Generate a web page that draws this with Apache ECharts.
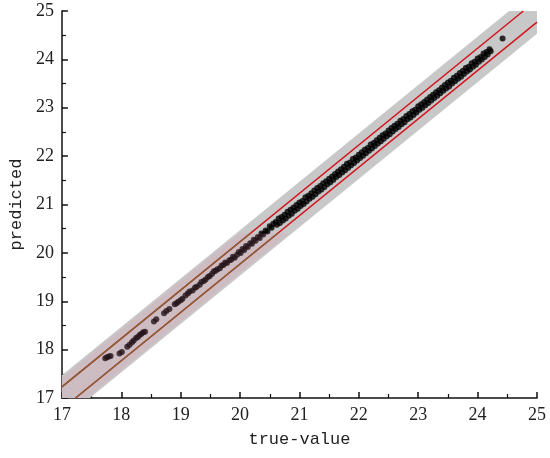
<!DOCTYPE html>
<html>
<head>
<meta charset="utf-8">
<script src="https://cdn.jsdelivr.net/npm/echarts@6/dist/echarts.min.js"></script>
<style>
html,body{margin:0;padding:0;background:#fff;}
#main{width:550px;height:458px;}
</style>
</head>
<body>
<div id="main"></div>
<script>
// axis range + ticks
var axisMin = 17, axisMax = 25;
var tickLabels = [17, 18, 19, 20, 21, 22, 23, 24, 25];

// band offsets around y = x
var grayBand = [-0.47, 0.47];
var pinkBand = [-0.42, 0.42];
var redLines = [-0.23, 0.23];
var pinkTop = 20.4;   // pink overlay + olive lines stop here

// scatter: true value / predicted
var trueVals = [
 17.73,17.76,17.79,17.82,17.97,18.01,18.10,18.14,18.18,18.21,18.25,18.28,18.31,18.34,18.37,18.40,
 18.55,18.59,18.72,18.76,18.81,18.90,18.93,18.96,19.00,19.03,
 19.08,19.12,19.15,19.20,19.24,19.27,19.32,19.35,19.39,19.42,19.46,19.49,19.53,19.56,19.59,19.62,
 19.66,19.69,19.72,19.75,19.78,19.82,19.85,19.88,19.91,19.95,19.98,20.01,20.04,20.07,20.10,20.13,
 20.17,20.20,20.23,20.26,20.30,20.33,20.36,20.39,20.43,20.46,20.50,20.53,20.56,
 20.60,20.62,20.65,20.67,20.70,20.72,20.75,20.77,20.80,20.82,20.85,20.87,20.90,20.92,20.95,20.97,
 21.00,21.02,21.05,21.07,21.10,21.12,21.15,21.17,21.20,21.22,21.25,21.27,21.30,21.32,21.35,21.37,
 21.40,21.42,21.45,21.47,21.50,21.52,21.55,21.57,21.60,21.62,21.65,21.67,21.70,21.72,21.75,21.77,
 21.80,21.82,21.85,21.87,21.90,21.92,21.95,21.97,22.00,22.02,22.05,22.07,22.10,22.12,22.15,22.17,
 22.20,22.22,22.25,22.27,22.30,22.32,22.35,22.37,22.40,22.42,22.45,22.47,22.50,22.52,22.55,22.57,
 22.60,22.62,22.65,22.67,22.70,22.72,22.75,22.77,22.80,22.82,22.85,22.87,22.90,22.92,22.95,22.97,
 23.00,23.02,23.05,23.07,23.10,23.12,23.15,23.17,23.20,23.22,23.25,23.27,23.30,23.32,23.35,23.37,
 23.40,23.42,23.45,23.47,23.50,23.52,23.55,23.57,23.60,23.62,23.65,23.67,23.70,23.72,23.75,23.77,
 23.80,23.82,23.85,23.87,23.90,23.92,23.95,23.97,24.00,24.02,24.05,24.07,24.10,24.12,24.15,24.17,
 24.20,24.22,
 24.42
];
var predVals = [
 17.82,17.84,17.86,17.87,17.92,17.95,18.06,18.10,18.15,18.19,18.24,18.26,18.30,18.33,18.36,18.37,
 18.58,18.63,18.75,18.80,18.84,18.94,18.96,18.99,19.02,19.05,
 19.12,19.16,19.20,19.22,19.28,19.30,19.34,19.40,19.42,19.45,19.50,19.52,19.57,19.62,19.63,19.66,
 19.68,19.74,19.75,19.80,19.79,19.85,19.86,19.92,19.90,19.96,20.02,20.00,20.08,20.06,20.14,20.12,
 20.20,20.19,20.27,20.25,20.33,20.31,20.40,20.38,20.46,20.44,20.55,20.52,20.60,
 20.64,20.58,20.71,20.62,20.74,20.67,20.79,20.71,20.85,20.77,20.89,20.81,20.94,20.87,20.99,20.91,
 21.04,20.97,21.07,21.01,21.15,21.06,21.18,21.12,21.23,21.16,21.29,21.21,21.34,21.27,21.38,21.31,
 21.44,21.36,21.48,21.42,21.53,21.46,21.58,21.51,21.63,21.57,21.68,21.61,21.73,21.66,21.78,21.71,
 21.84,21.76,21.87,21.81,21.94,21.86,21.97,21.91,22.03,21.96,22.08,22.01,22.13,22.06,22.17,22.11,
 22.24,22.16,22.27,22.21,22.33,22.26,22.38,22.31,22.43,22.36,22.47,22.41,22.53,22.45,22.58,22.51,
 22.63,22.56,22.67,22.60,22.73,22.66,22.77,22.70,22.83,22.76,22.87,22.80,22.93,22.85,22.96,22.90,
 23.03,22.96,23.07,23.00,23.12,23.05,23.17,23.10,23.22,23.15,23.27,23.20,23.32,23.25,23.36,23.30,
 23.42,23.35,23.47,23.40,23.52,23.44,23.56,23.50,23.62,23.55,23.66,23.60,23.72,23.64,23.76,23.70,
 23.82,23.75,23.85,23.79,23.92,23.85,23.95,23.89,24.02,23.95,24.05,24.00,24.12,24.05,24.15,24.10,
 24.21,24.17,
 24.43
];

var fontNum = 'Liberation Serif';
var fontName = 'Liberation Mono';

// band between y=x+lo and y=x+hi, cut off at y=top
function bandPoly(lo, hi, top) {
  return [
    [axisMin, axisMin], [axisMin - lo, axisMin],
    [top - lo, top], [top - hi, top],
    [axisMin, axisMin + hi]
  ];
}
function fullBand(lo, hi) {
  return [
    [axisMin, axisMin], [axisMin - lo, axisMin],
    [axisMax, axisMax + lo], [axisMax, axisMax],
    [axisMax - hi, axisMax], [axisMin, axisMin + hi]
  ];
}
function polySeries(pts, color, z) {
  return {
    type: 'custom', z: z, silent: true,
    data: [[axisMin, axisMin]],
    renderItem: function (params, api) {
      return {
        type: 'polygon',
        shape: { points: pts.map(function (p) { return api.coord(p); }) },
        style: { fill: color }
      };
    }
  };
}
function lineSeries(pts, color, z) {
  return {
    type: 'line', z: z, silent: true, symbol: 'none',
    data: pts,
    lineStyle: { color: color, width: 1.5 }
  };
}

var points = trueVals.map(function (v, i) { return [v, predVals[i]]; });
var lo = redLines[0], hi = redLines[1];

var axisCommon = {
  type: 'value', min: axisMin, max: axisMax, interval: 1,
  nameLocation: 'middle',
  nameTextStyle: { fontFamily: fontName, fontSize: 17, color: '#222' },
  axisLine: { show: true, lineStyle: { color: '#111', width: 1.5 } },
  axisTick: { show: true, inside: true, length: 6, lineStyle: { color: '#111', width: 1.5 } },
  minorTick: { show: true, splitNumber: 2, length: 4, lineStyle: { color: '#111', width: 1.2 } },
  splitLine: { show: false },
  axisLabel: { fontFamily: fontNum, fontSize: 18, color: '#222', margin: 8 }
};

var chart = echarts.init(document.getElementById('main'));
chart.setOption({
  animation: false,
  backgroundColor: '#fff',
  grid: { left: 53, right: 13, top: 11, bottom: 60 },
  xAxis: Object.assign({}, axisCommon, { name: 'true-value', nameGap: 33 }),
  yAxis: Object.assign({}, axisCommon, { name: 'predicted', nameGap: 36 }),
  series: [
    polySeries(fullBand(grayBand[0], grayBand[1]), '#c8c8c8', 1),
    lineSeries([[axisMin, axisMin + hi], [axisMax - hi, axisMax]], '#d2141e', 2),
    lineSeries([[axisMin - lo, axisMin], [axisMax, axisMax + lo]], '#d2141e', 2),
    lineSeries([[axisMin, axisMin + hi], [pinkTop - hi, pinkTop]], '#6e5a1e', 3),
    lineSeries([[axisMin - lo, axisMin], [pinkTop - lo, pinkTop]], '#6e5a1e', 3),
    {
      type: 'scatter', z: 4, silent: true,
      symbolSize: 6,
      itemStyle: { color: '#000' },
      data: points
    },
    polySeries(bandPoly(pinkBand[0], pinkBand[1], pinkTop), 'rgba(240,130,175,0.16)', 5)
  ]
});
</script>
</body>
</html>
